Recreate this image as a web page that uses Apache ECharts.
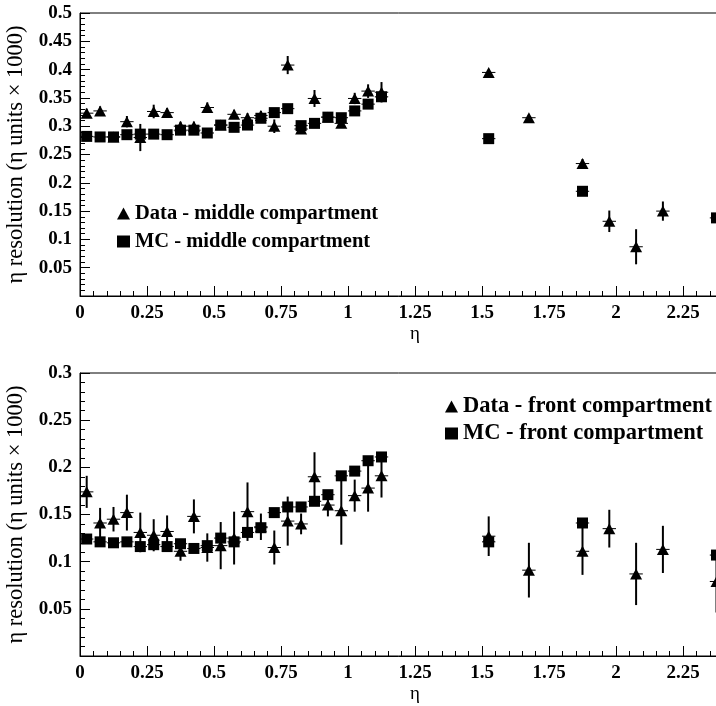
<!DOCTYPE html>
<html><head><meta charset="utf-8">
<script src="https://cdn.jsdelivr.net/npm/echarts@6/dist/echarts.min.js"></script>
<style>html,body{margin:0;padding:0;background:#fff}#c{width:716px;height:706px}</style>
</head><body><div id="c"></div>
<script>
// eta bin centres
const etaBarrel = [0.025,0.075,0.125,0.175,0.225,0.275,0.325,0.375,0.425,0.475,0.525,0.575,0.625,0.675,0.725,0.775,0.825,0.875,0.925,0.975,1.025,1.075,1.125];
const etaTopData = etaBarrel.concat([1.525,1.675,1.875,1.975,2.075,2.175]);
const etaTopMC   = etaBarrel.concat([1.525,1.875,2.375]);
const etaBotData = etaBarrel.concat([1.525,1.675,1.875,1.975,2.075,2.175,2.375]);
const etaBotMC   = etaBarrel.concat([1.525,1.875,2.375]);

// middle compartment
const midData    = [0.323,0.327,0.281,0.308,0.280,0.326,0.324,0.300,0.300,0.333,0.302,0.321,0.315,0.319,0.300,0.408,0.295,0.349,0.316,0.305,0.349,0.362,0.360, 0.395,0.315,0.234,0.132,0.087,0.150];
const midDataErr = [0.008,0.008,0.006,0.010,0.024,0.012,0.008,0.008,0.008,0.009,0.006,0.008,0.008,0.008,0.012,0.016,0.008,0.015,0.006,0.008,0.010,0.012,0.018, 0.005,0.005,0.008,0.019,0.031,0.017];
const midMC      = [0.282,0.281,0.281,0.285,0.286,0.286,0.285,0.293,0.293,0.288,0.302,0.298,0.302,0.314,0.324,0.331,0.301,0.305,0.316,0.315,0.327,0.339,0.352, 0.278,0.185,0.138];
const midMCErr   = [0.005,0.005,0.005,0.005,0.005,0.005,0.005,0.005,0.005,0.005,0.005,0.005,0.005,0.005,0.005,0.005,0.005,0.005,0.005,0.005,0.005,0.005,0.005, 0.004,0.004,0.004];

// front compartment
const frontData    = [0.174,0.141,0.145,0.152,0.131,0.128,0.132,0.111,0.148,0.115,0.117,0.125,0.153,0.137,0.115,0.143,0.140,0.190,0.160,0.154,0.170,0.178,0.191, 0.127,0.091,0.111,0.135,0.087,0.113,0.079];
const frontDataErr = [0.017,0.016,0.013,0.019,0.021,0.017,0.017,0.010,0.018,0.015,0.025,0.028,0.031,0.014,0.018,0.026,0.011,0.026,0.012,0.036,0.017,0.025,0.023, 0.021,0.029,0.025,0.020,0.033,0.025,0.033];
const frontMC      = [0.124,0.121,0.120,0.121,0.116,0.118,0.116,0.119,0.114,0.117,0.125,0.121,0.131,0.136,0.152,0.158,0.158,0.164,0.171,0.191,0.196,0.207,0.211, 0.121,0.141,0.107];
const frontMCErr   = [0.004,0.004,0.004,0.004,0.004,0.004,0.004,0.004,0.004,0.004,0.004,0.004,0.004,0.004,0.004,0.004,0.004,0.004,0.004,0.004,0.004,0.004,0.004, 0.004,0.004,0.004];

const binHalf = 0.025;
const yTitle = 'η resolution (η units × 1000)';
const SERIF = '"Liberation Serif", "DejaVu Serif", serif';

function pts(xs, ys){ return xs.map((x,i)=>[x, ys[i]]); }
function errs(xs, ys, es){ return xs.map((x,i)=>[x, ys[i], es[i]]); }

function errRender(params, api){
  const x = api.value(0), y = api.value(1), e = api.value(2);
  const t = api.coord([x, y+e]), b = api.coord([x, y-e]);
  const l = api.coord([x-binHalf, y]), r = api.coord([x+binHalf, y]);
  return {type:'group', children:[
    {type:'line', shape:{x1:t[0],y1:t[1],x2:b[0],y2:b[1]}, style:{stroke:'#000',lineWidth:2}},
    {type:'line', shape:{x1:l[0],y1:l[1],x2:r[0],y2:r[1]}, style:{stroke:'#000',lineWidth:1}}
  ]};
}

function xAxis(gi){
  return {
    gridIndex: gi, type:'value', min:0, max:2.5, interval:0.25,
    name:'η', nameLocation:'middle', nameGap:29,
    nameTextStyle:{fontFamily:SERIF, fontSize:19, color:'#000'},
    axisLine:{show:true, lineStyle:{color:'#000', width:1}},
    axisTick:{show:true, inside:true, length:10, lineStyle:{color:'#000'}},
    minorTick:{show:true, splitNumber:5, length:5, lineStyle:{color:'#000'}},
    splitLine:{show:false},
    axisLabel:{fontFamily:SERIF, fontWeight:'bold', fontSize:19, color:'#000', margin:8}
  };
}
function yAxis(gi, max){
  return {
    gridIndex: gi, type:'value', min:0, max:max, interval:0.05,
    name:yTitle, nameLocation:'middle', nameGap:48,
    nameTextStyle:{fontFamily:SERIF, fontSize:22.5, color:'#000'},
    axisLine:{show:true, lineStyle:{color:'#000', width:1}},
    axisTick:{show:true, inside:true, length:10, lineStyle:{color:'#000'}},
    minorTick:{show:true, splitNumber:5, length:5, lineStyle:{color:'#000'}},
    splitLine:{show:false},
    axisLabel:{fontFamily:SERIF, fontWeight:'bold', fontSize:19, color:'#000', margin:8,
      formatter: v => v === 0 ? '' : String(+v.toFixed(2))}
  };
}

function panel(gi, names, dX, dY, dE, mX, mY, mE){
  return [
    {type:'custom', xAxisIndex:gi, yAxisIndex:gi, renderItem:errRender, data:errs(mX,mY,mE), encode:{x:0,y:1}, z:1, silent:true},
    {type:'custom', xAxisIndex:gi, yAxisIndex:gi, renderItem:errRender, data:errs(dX,dY,dE), encode:{x:0,y:1}, z:1, silent:true},
    {name:names[1], type:'scatter', xAxisIndex:gi, yAxisIndex:gi, symbol:'rect', symbolSize:11,
      itemStyle:{color:'#000', opacity:1}, data:pts(mX,mY), z:3},
    {name:names[0], type:'scatter', xAxisIndex:gi, yAxisIndex:gi, symbol:'triangle', symbolSize:[12,11],
      itemStyle:{color:'#000', opacity:1}, data:pts(dX,dY), z:4}
  ];
}

const chart = echarts.init(document.getElementById('c'), null, {renderer:'canvas'});
chart.setOption({
  animation:false,
  backgroundColor:'#fff',
  grid:[
    {left:80, top:13, width:670, height:283, show:true, borderColor:'#000', borderWidth:1, backgroundColor:'transparent', containLabel:false, outerBoundsMode:'none'},
    {left:80, top:373, width:670, height:283, show:true, borderColor:'#000', borderWidth:1, backgroundColor:'transparent', containLabel:false, outerBoundsMode:'none'}
  ],
  xAxis:[xAxis(0), xAxis(1)],
  yAxis:[yAxis(0,0.5), yAxis(1,0.3)],
  legend:[
    {orient:'vertical', left:112, top:198, itemWidth:13, itemHeight:12, itemGap:7,
      textStyle:{fontFamily:SERIF, fontWeight:'bold', fontSize:20.5, color:'#000'},
      data:[{name:'Data - middle compartment', icon:'triangle'},{name:'MC - middle compartment', icon:'rect'}]},
    {orient:'vertical', left:440, top:390, itemWidth:13, itemHeight:12, itemGap:4,
      textStyle:{fontFamily:SERIF, fontWeight:'bold', fontSize:22.5, color:'#000'},
      data:[{name:'Data - front compartment', icon:'triangle'},{name:'MC - front compartment', icon:'rect'}]}
  ],
  series: panel(0, ['Data - middle compartment','MC - middle compartment'], etaTopData, midData, midDataErr, etaTopMC, midMC, midMCErr)
    .concat(panel(1, ['Data - front compartment','MC - front compartment'], etaBotData, frontData, frontDataErr, etaBotMC, frontMC, frontMCErr))
});
</script>
</body></html>
